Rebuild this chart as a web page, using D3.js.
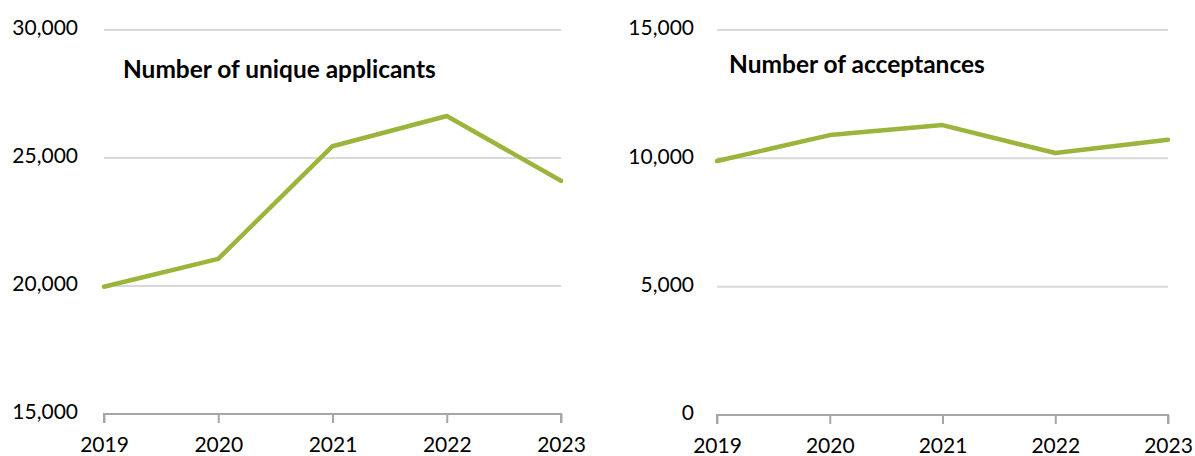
<!DOCTYPE html>
<html>
<head>
<meta charset="utf-8">
<script src="https://cdn.jsdelivr.net/npm/d3@7"></script>
<style>
  html, body { margin: 0; padding: 0; background: #ffffff; }
  svg { display: block; }
  text { font-family: Lato, "Open Sans", sans-serif; fill: #000; }
</style>
</head>
<body>
<svg id="chart" width="1195" height="456"></svg>
<script>
// Years shared by both panels
const years = [2019, 2020, 2021, 2022, 2023];

// Unique applicants per year
const applicants = [19970, 21060, 25460, 26640, 24110];
const applicantTicks = [15000, 20000, 25000, 30000];

// Acceptances per year
const acceptances = [9895, 10905, 11295, 10206, 10728];
const acceptanceTicks = [0, 5000, 10000, 15000];

const svg = d3.select("#chart");
const fmt = d3.format(",");

const LINE = "#9bb43c";
const GRID = "#d9d9d9";
const AXIS = "#a6a6a6";
const TICK_FONT = "21px";

function panel(cfg) {
  const g = svg.append("g");
  const x = d3.scalePoint().domain(cfg.years).range([cfg.x0, cfg.x1]);
  const y = d3.scaleLinear().domain(cfg.domain).range([cfg.y0, cfg.y1]);

  // horizontal gridlines (skip the baseline, drawn by the axis)
  g.append("g").selectAll("line")
    .data(cfg.ticks.filter(t => t !== cfg.domain[0]))
    .join("line")
    .attr("x1", cfg.x0).attr("x2", cfg.x1)
    .attr("y1", d => y(d)).attr("y2", d => y(d))
    .attr("stroke", GRID).attr("stroke-width", 2);

  // y tick labels
  g.append("g").selectAll("text")
    .data(cfg.ticks)
    .join("text")
    .attr("x", cfg.labelX)
    .attr("y", d => y(d) - 2)
    .attr("dy", "0.35em")
    .attr("text-anchor", "end")
    .style("font-size", TICK_FONT)
    .text(d => fmt(d));

  // bottom axis
  const ax = g.append("g")
    .attr("transform", `translate(0,${cfg.y0})`)
    .call(d3.axisBottom(x).tickSize(9).tickPadding(14).tickFormat(d3.format("d")));
  ax.select(".domain").attr("stroke", AXIS).attr("stroke-width", 2)
    .attr("d", `M${cfg.x0},9V0H${cfg.x1}V9`);
  ax.selectAll(".tick line").attr("stroke", AXIS).attr("stroke-width", 2);
  ax.selectAll(".tick text")
    .style("font-size", TICK_FONT)
    .style("font-family", "Lato, 'Open Sans', sans-serif")
    .attr("fill", "#000");

  // data line
  const line = d3.line()
    .x((d, i) => x(cfg.years[i]))
    .y(d => y(d));
  g.append("path")
    .datum(cfg.values)
    .attr("d", line)
    .attr("fill", "none")
    .attr("stroke", LINE)
    .attr("stroke-width", 4.5)
    .attr("stroke-linejoin", "round")
    .attr("stroke-linecap", "round");

  // panel title, sized to its set width
  const t = g.append("text")
    .attr("x", cfg.titleX)
    .attr("y", cfg.titleY)
    .style("font-size", "20px")
    .style("font-weight", "700")
    .text(cfg.title);
  const w = t.node().getComputedTextLength();
  t.style("font-size", (20 * cfg.titleW / w) + "px");
}

panel({
  years, values: applicants, ticks: applicantTicks,
  domain: [15000, 30000],
  x0: 104, x1: 561, y0: 414, y1: 30,
  labelX: 78,
  title: "Number of unique applicants", titleX: 123, titleY: 78, titleW: 313
});

panel({
  years, values: acceptances, ticks: acceptanceTicks,
  domain: [0, 15000],
  x0: 717, x1: 1168, y0: 415, y1: 30,
  labelX: 694,
  title: "Number of acceptances", titleX: 729, titleY: 73, titleW: 256
});
</script>
</body>
</html>
